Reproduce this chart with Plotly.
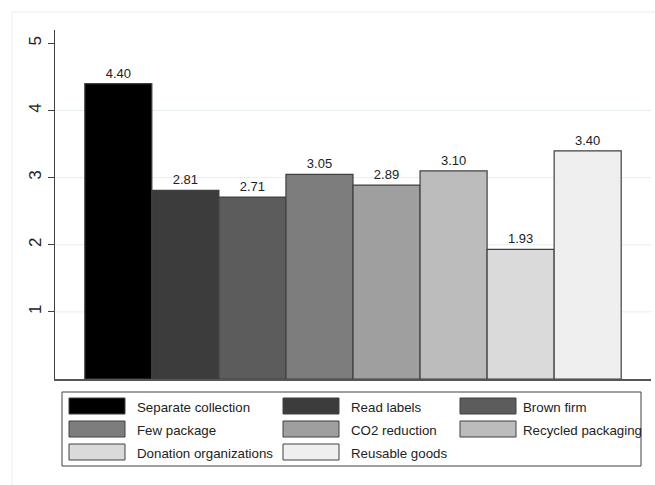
import plotly.graph_objects as go

categories = ["Separate collection", "Read labels", "Brown firm", "Few package",
              "CO2 reduction", "Recycled packaging", "Donation organizations", "Reusable goods"]
values = [4.40, 2.81, 2.71, 3.05, 2.89, 3.10, 1.93, 3.40]
colors = ["#000000", "#3c3c3c", "#5c5c5c", "#7d7d7d", "#9f9f9f", "#bcbcbc", "#dadada", "#efefef"]
ytick_vals = [1, 2, 3, 4, 5]
grid_vals = [1, 2, 3, 4]

W, H = 655, 485
L, R, T, B = 55, 4, 30, 106
PW, PH = W - L - R, H - T - B
FONT = "Arial, Liberation Sans, sans-serif"


def px(x):
    return (x - L) / PW


def py(y):
    return (H - B - y) / PH


fig = go.Figure()
for name, val, col in zip(categories, values, colors):
    fig.add_trace(go.Bar(
        x=[0], y=[val], name=name,
        marker=dict(color=col, line=dict(color="#404040", width=1.2)),
        text=[f"{val:.2f}"], textposition="outside",
        textfont=dict(size=13, color="#222222", family=FONT),
        cliponaxis=False, showlegend=False,
    ))

shapes = []
for g in grid_vals:
    shapes.append(dict(type="line", xref="paper", yref="y", x0=0, x1=1, y0=g, y1=g,
                       line=dict(color="#e6eef1", width=1), layer="below"))
# outer graph-region border (light)
shapes.append(dict(type="line", xref="paper", yref="paper", x0=px(12), x1=px(W), y0=py(12), y1=py(12),
                   line=dict(color="#e3edf0", width=1), layer="below"))
shapes.append(dict(type="line", xref="paper", yref="paper", x0=px(12), x1=px(12), y0=py(12), y1=py(H),
                   line=dict(color="#e3edf0", width=1), layer="below"))

# custom legend
box = (62, 392, 641, 466)
shapes.append(dict(type="rect", xref="paper", yref="paper",
                   x0=px(box[0]), x1=px(box[2]), y0=py(box[1]), y1=py(box[3]),
                   line=dict(color="#404040", width=1), fillcolor="white"))
key_left = [69, 283, 460]
text_left = [135, 349, 521]
row_top = [398, 421, 444]
key_w, key_h = 56, 16
annotations = []
for i, (name, col) in enumerate(zip(categories, colors)):
    r, c = divmod(i, 3)
    x0, y0 = key_left[c], row_top[r]
    shapes.append(dict(type="rect", xref="paper", yref="paper",
                       x0=px(x0), x1=px(x0 + key_w), y0=py(y0), y1=py(y0 + key_h),
                       line=dict(color="#404040", width=1), fillcolor=col))
    annotations.append(dict(xref="paper", yref="paper", x=px(text_left[c]), y=py(y0 + key_h / 2 + 1),
                            text=name, showarrow=False, xanchor="left", yanchor="middle",
                            font=dict(size=13.3, color="#222222", family=FONT)))

fig.update_layout(
    width=W, height=H,
    margin=dict(l=L, r=R, t=T, b=B, pad=0),
    paper_bgcolor="white", plot_bgcolor="white",
    barmode="group", bargap=0.1, bargroupgap=0,
    font=dict(family=FONT, size=13, color="#222222"),
    shapes=shapes, annotations=annotations,
    showlegend=False,
    xaxis=dict(range=[-0.5, 0.5], showticklabels=False, ticks="", showgrid=False, zeroline=False,
               showline=True, linecolor="#555555", linewidth=1.5, fixedrange=True),
    yaxis=dict(range=[0, 5.2], tickvals=ytick_vals, ticktext=[str(v) for v in ytick_vals],
               tickangle=-90, ticks="outside", ticklen=6, tickcolor="#404040",
               showgrid=False, zeroline=False, showline=True, linecolor="#404040", linewidth=1,
               tickfont=dict(size=17, color="#222222", family=FONT)),
)

fig.write_html("out.html", config={"displayModeBar": False},
               post_script="document.body.style.margin='0';")
